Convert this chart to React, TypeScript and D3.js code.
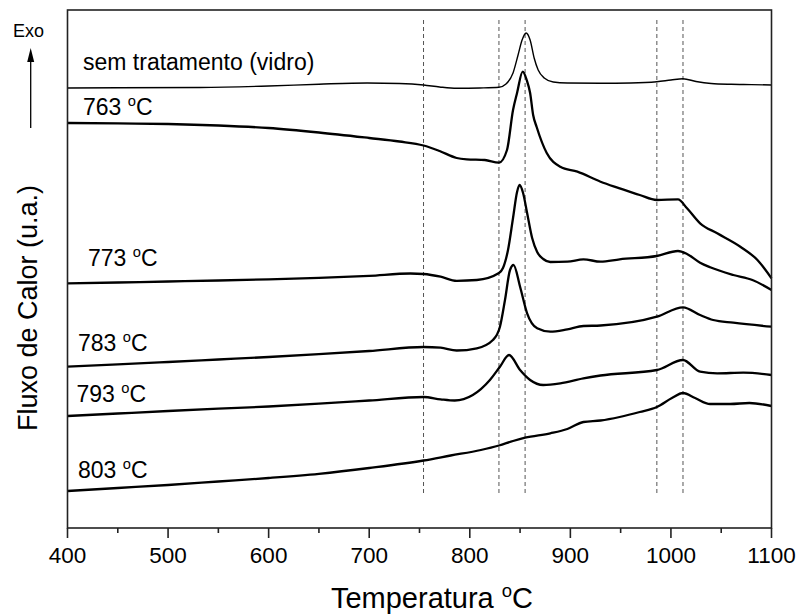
import React from "react";
import * as d3 from "d3";

// Temperature (°C) vs heat flow (arbitrary units) for each sample
const semTratamento: [number, number][] = [
  [400, 44.0], [450, 44.02], [532, 44.05], [600, 44.2], [650, 44.38], [698, 44.5], [730, 44.45],
  [754, 44.3], [770, 44.1], [787, 43.97], [810, 44.0], [829, 44.07], [836, 44.4], [843, 45.5],
  [848, 47.3], [852, 48.8], [856, 49.5], [860, 48.8], [864, 47.0], [868, 45.8], [874, 45.0],
  [883, 44.6], [897, 44.5], [930, 44.47], [960, 44.5], [986, 44.63], [1000, 44.8], [1012, 44.93],
  [1025, 44.65], [1040, 44.45], [1060, 44.37], [1080, 44.34], [1100, 44.3],
];
const t763: [number, number][] = [
  [400, 40.5], [450, 40.46], [500, 40.4], [550, 40.25], [600, 40.0], [650, 39.55], [700, 39.0],
  [730, 38.65], [754, 38.25], [770, 37.7], [787, 37.0], [797, 36.87], [815, 36.8],
  [829, 36.53], [837, 37.8], [843, 41.8], [847, 43.5], [852.6, 45.63], [856.6, 44.8], [860, 43.5],
  [863, 41.3], [866.5, 40.1], [876.5, 37.5], [890, 36.13], [907, 35.63], [930, 34.63], [949, 33.97],
  [969, 33.3], [986, 32.8], [1007, 32.87], [1016, 31.97], [1029, 30.47], [1046, 29.47],
  [1069, 28.13], [1086, 26.8], [1100, 24.97],
];
const t773: [number, number][] = [
  [400, 24.47], [450, 24.55], [500, 24.65], [550, 24.75], [600, 24.87], [650, 25.02], [700, 25.22],
  [741, 25.45], [754, 25.4], [771, 25.13], [787, 24.72], [807, 24.8], [829, 25.5], [833, 26.0],
  [838, 27.8], [843, 31.0], [847, 33.6], [849.5, 34.3], [853, 33.5], [857, 31.5], [862, 29.0],
  [867, 27.6], [873, 26.9], [880, 26.6], [897, 26.63], [913, 26.87], [930, 26.63], [949, 26.87],
  [986, 27.2], [1007, 27.7], [1016, 27.4], [1029, 26.53], [1039, 26.07], [1062, 25.3],
  [1081, 24.8], [1100, 23.8],
];
const t783: [number, number][] = [
  [400, 16.13], [450, 16.36], [500, 16.6], [550, 16.85], [600, 17.1], [650, 17.38], [700, 17.7],
  [754, 18.1], [771, 18.03], [787, 17.75], [807, 17.97], [823, 18.8], [830, 20.13], [835, 22.8],
  [840, 25.8], [843.5, 26.3], [850, 24.13], [857, 21.47], [867, 19.97], [880, 19.63], [897, 19.87],
  [913, 20.2], [930, 20.25], [986, 21.13], [1012, 22.07], [1029, 21.3], [1042, 20.8],
  [1062, 20.53], [1100, 20.13],
];
const t793: [number, number][] = [
  [400, 11.2], [450, 11.45], [500, 11.7], [550, 11.93], [600, 12.15], [650, 12.43], [700, 12.75],
  [754, 13.1], [771, 12.87], [785, 12.75], [803, 13.3], [820, 14.8], [830, 16.13], [839, 17.3],
  [850, 15.8], [860, 14.8], [873, 14.3], [890, 14.47], [913, 14.97], [930, 15.25], [986, 15.8],
  [1012, 16.8], [1029, 15.63], [1046, 15.47], [1072, 15.53], [1100, 15.3],
];
const t803: [number, number][] = [
  [400, 3.7], [450, 4.0], [500, 4.3], [550, 4.65], [600, 5.0], [650, 5.42], [700, 6.0],
  [754, 6.75], [781, 7.25], [811, 7.8], [829, 8.25], [843, 8.7], [855, 9.03], [880, 9.47],
  [897, 9.9], [913, 10.6], [930, 10.75], [949, 11.1], [969, 11.6], [986, 12.1], [1001, 13.0],
  [1012, 13.5], [1024, 13.0], [1039, 12.4], [1059, 12.4], [1078, 12.5], [1100, 12.2],
];
const referenceTemps = [754, 829, 855, 986, 1012];
const xTicks = [400, 500, 600, 700, 800, 900, 1000, 1100];
const xMinorTicks = [450, 550, 650, 750, 850, 950, 1050];

const seriesList = [
  { name: "sem tratamento (vidro)", data: semTratamento, thin: true },
  { name: "763", data: t763, thin: false },
  { name: "773", data: t773, thin: false },
  { name: "783", data: t783, thin: false },
  { name: "793", data: t793, thin: false },
  { name: "803", data: t803, thin: false },
];

const W = 800;
const H = 616;
const M = { left: 67.5, right: 771.5, top: 10, bottom: 528 };
const FONT = "'Liberation Sans', Arial, sans-serif";

export default function App() {
  const x = d3.scaleLinear().domain([400, 1100]).range([M.left, M.right]);
  const y = d3.scaleLinear().domain([0, 51.8]).range([M.bottom, M.top]);
  const line = d3
    .line<[number, number]>()
    .x((d) => x(d[0]))
    .y((d) => y(d[1]))
    .curve(d3.curveMonotoneX);

  const degLabel = (num: string, lx: number, ly: number, size = 23) => (
    <text x={lx} y={ly} fontSize={size} fontFamily={FONT} fill="#000">
      {num + " "}
      <tspan fontSize={size * 0.64} dy={-size * 0.38}>o</tspan>
      <tspan dy={size * 0.38}>C</tspan>
    </text>
  );

  return (
    <svg width={W} height={H} style={{ position: "absolute", left: 0, top: 0, background: "#fff" }}>
      <rect x={0} y={0} width={W} height={H} fill="#fff" />
      {referenceTemps.map((t) => (
        <line key={t} x1={x(t)} x2={x(t)} y1={20} y2={494} stroke="#555" strokeWidth={1} strokeDasharray="4,3" />
      ))}
      {seriesList.map((s) => (
        <path key={s.name} d={line(s.data) || ""} fill="none" stroke="#000" strokeWidth={s.thin ? 1.4 : 2.3} strokeLinejoin="round" />
      ))}
      <rect x={M.left} y={M.top} width={M.right - M.left} height={M.bottom - M.top} fill="none" stroke="#222" strokeWidth={1.6} />
      {xTicks.map((t) => (
        <g key={t}>
          <line x1={x(t)} x2={x(t)} y1={M.bottom} y2={M.bottom + 10} stroke="#222" strokeWidth={1.6} />
          <text x={x(t)} y={563} textAnchor="middle" fontSize={22.5} fontFamily={FONT} fill="#000">{t}</text>
        </g>
      ))}
      {xMinorTicks.map((t) => (
        <line key={t} x1={x(t)} x2={x(t)} y1={M.bottom} y2={M.bottom + 5} stroke="#222" strokeWidth={1.6} />
      ))}
      <text x={432} y={608} textAnchor="middle" fontSize={29} fontFamily={FONT} fill="#000">
        {"Temperatura "}
        <tspan fontSize={18.5} dy={-11}>o</tspan>
        <tspan dy={11}>C</tspan>
      </text>
      <text transform="translate(37,308) rotate(-90)" textAnchor="middle" fontSize={27} fontFamily={FONT} fill="#000">
        Fluxo de Calor (u.a.)
      </text>
      <text x={13} y={37} fontSize={18} fontFamily={FONT} fill="#000">Exo</text>
      <line x1={30.7} x2={30.7} y1={128} y2={56} stroke="#000" strokeWidth={1.3} />
      <path d="M27.2,62 L30.7,48 L34.2,62 Z" fill="#000" />
      <text x={83} y={70} fontSize={23} fontFamily={FONT} fill="#000">sem tratamento (vidro)</text>
      {degLabel("763", 83, 115)}
      {degLabel("773", 88, 266)}
      {degLabel("783", 78, 350.5)}
      {degLabel("793", 76.5, 401.5)}
      {degLabel("803", 78, 478)}
    </svg>
  );
}
